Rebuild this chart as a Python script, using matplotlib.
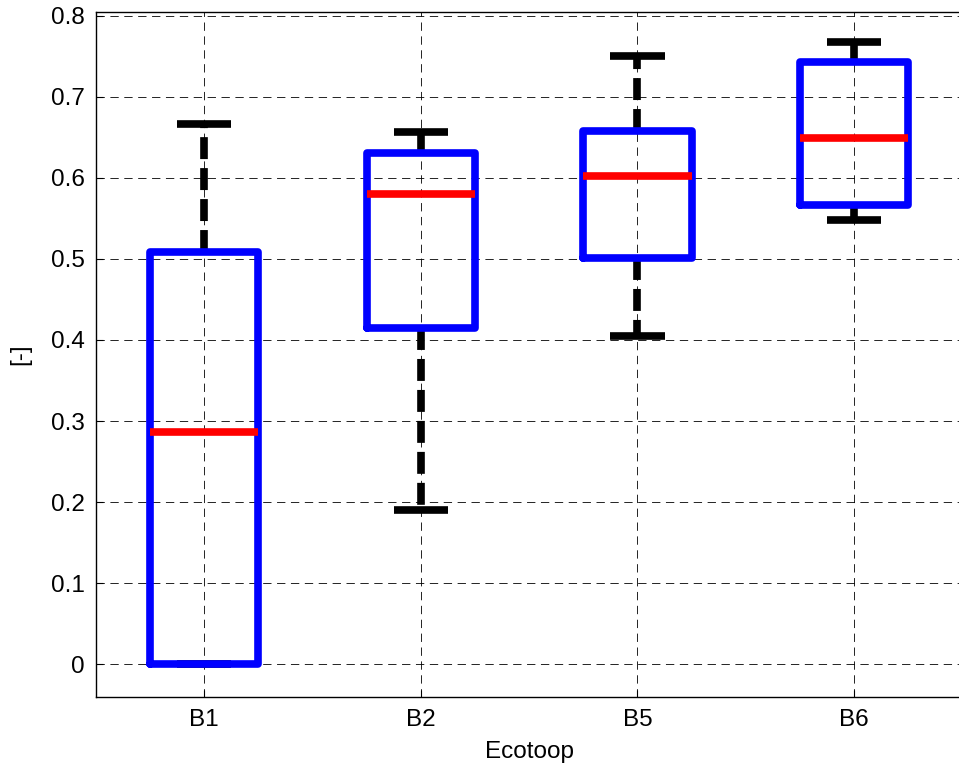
import matplotlib
matplotlib.use("Agg")
import matplotlib.pyplot as plt

# Box statistics per ecotope
categories = ["B1", "B2", "B5", "B6"]
whisker_low = [0.0, 0.190, 0.405, 0.548]
q1 = [0.0, 0.4145, 0.501, 0.5666]
median = [0.2862, 0.580, 0.6023, 0.6488]
q3 = [0.509, 0.6311, 0.6582, 0.7426]
whisker_high = [0.6661, 0.6562, 0.7503, 0.7672]
yticks = [0, 0.1, 0.2, 0.3, 0.4, 0.5, 0.6, 0.7, 0.8]

plt.rcParams["font.family"] = ["Liberation Sans", "DejaVu Sans"]
plt.rcParams["lines.scale_dashes"] = False

fig = plt.figure(figsize=(9.59, 7.69), dpi=100)
ax = fig.add_axes([0.0998, 0.0940, 0.9038, 0.890])

stats = []
for name, lo, a, m, b, hi in zip(categories, whisker_low, q1, median, q3, whisker_high):
    stats.append({"label": name, "whislo": lo, "q1": a, "med": m,
                  "q3": b, "whishi": hi, "fliers": []})

lw = 5.5
positions = list(range(1, len(categories) + 1))
ax.bxp(stats, positions=positions, widths=0.5, capwidths=0.25,
       showfliers=False,
       boxprops=dict(color="#0000ff", linewidth=lw, solid_joinstyle="round",
                     solid_capstyle="round", zorder=3),
       medianprops=dict(color="#ff0000", linewidth=lw, solid_capstyle="butt",
                        zorder=4),
       whiskerprops=dict(color="black", linewidth=lw,
                         linestyle=(0, (15.8, 6.5)), dash_capstyle="butt",
                         zorder=2),
       capprops=dict(color="black", linewidth=lw, solid_capstyle="butt",
                     zorder=2))

ax.set_xlim(0.5, len(categories) + 0.5)
ax.set_ylim(-0.04, 0.8042)
ax.set_xticks(positions)
ax.set_xticklabels(categories)
ax.set_yticks(yticks)
ax.set_yticklabels([f"{v:g}" for v in yticks])

ax.set_axisbelow(True)
ax.grid(True, color="black", linewidth=0.6, linestyle=(0, (6, 4)))

for side in ["left", "bottom", "top", "right"]:
    ax.spines[side].set_linewidth(1.0)
ax.tick_params(direction="in", length=5, width=0.8, labelsize=17.5,
               top=False, right=False)
ax.tick_params(axis="y", pad=8)
ax.tick_params(axis="x", pad=9)

ax.set_xlabel("Ecotoop", fontsize=17.5, labelpad=7)
ax.set_ylabel("[-]", fontsize=17.5, labelpad=14)

fig.savefig("out.png", dpi=100)
